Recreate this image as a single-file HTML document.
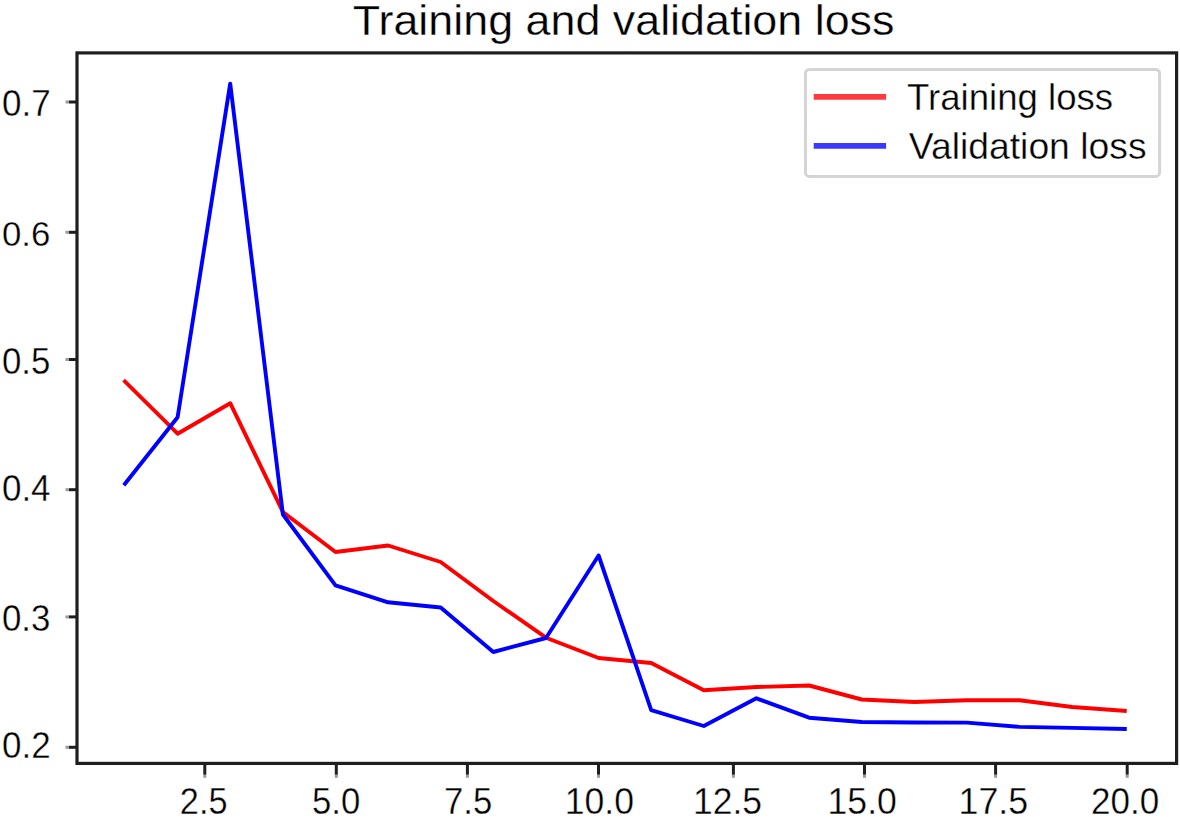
<!DOCTYPE html><html><head><meta charset="utf-8"><style>html,body{margin:0;padding:0;background:#fff;}svg{display:block;}text{font-family:"Liberation Sans",sans-serif;}</style></head><body>
<svg width="1180" height="817" viewBox="0 0 1180 817">
<rect width="1180" height="817" fill="#fff"/>
<polyline points="125.0,381.6 177.6,433.7 230.2,403.2 282.9,512.0 335.5,552.0 388.1,545.5 440.7,562.0 493.3,601.0 546.0,637.7 598.6,658.0 651.2,663.0 703.8,690.2 756.4,687.0 809.1,685.5 861.7,699.5 914.3,702.0 966.9,700.3 1019.5,700.3 1072.2,707.0 1124.8,710.8" fill="none" stroke="#ff0000" stroke-width="3.9" stroke-linejoin="round" stroke-linecap="square"/>
<polyline points="125.0,483.8 177.6,417.2 230.2,83.6 282.9,514.5 335.5,585.3 388.1,602.3 440.7,607.5 493.3,652.0 546.0,638.0 598.6,555.5 651.2,710.1 703.8,726.0 756.4,698.3 809.1,717.7 861.7,722.0 914.3,722.5 966.9,722.6 1019.5,726.9 1072.2,727.9 1124.8,729.0" fill="none" stroke="#0000ff" stroke-width="3.9" stroke-linejoin="round" stroke-linecap="square"/>
<rect x="77.0" y="52.9" width="1099.6" height="710.5" fill="none" stroke="#1e1e1e" stroke-width="3.2"/>
<line x1="68.8" y1="102.0" x2="77.0" y2="102.0" stroke="#1e1e1e" stroke-width="3"/>
<line x1="65.5" y1="102.0" x2="68.8" y2="102.0" stroke="#9a9a9a" stroke-width="3"/>
<line x1="68.8" y1="232.3" x2="77.0" y2="232.3" stroke="#1e1e1e" stroke-width="3"/>
<line x1="65.5" y1="232.3" x2="68.8" y2="232.3" stroke="#9a9a9a" stroke-width="3"/>
<line x1="68.8" y1="359.5" x2="77.0" y2="359.5" stroke="#1e1e1e" stroke-width="3"/>
<line x1="65.5" y1="359.5" x2="68.8" y2="359.5" stroke="#9a9a9a" stroke-width="3"/>
<line x1="68.8" y1="489.7" x2="77.0" y2="489.7" stroke="#1e1e1e" stroke-width="3"/>
<line x1="65.5" y1="489.7" x2="68.8" y2="489.7" stroke="#9a9a9a" stroke-width="3"/>
<line x1="68.8" y1="616.9" x2="77.0" y2="616.9" stroke="#1e1e1e" stroke-width="3"/>
<line x1="65.5" y1="616.9" x2="68.8" y2="616.9" stroke="#9a9a9a" stroke-width="3"/>
<line x1="68.8" y1="747.3" x2="77.0" y2="747.3" stroke="#1e1e1e" stroke-width="3"/>
<line x1="65.5" y1="747.3" x2="68.8" y2="747.3" stroke="#9a9a9a" stroke-width="3"/>
<line x1="204.8" y1="763.4" x2="204.8" y2="774.8" stroke="#1e1e1e" stroke-width="3"/>
<line x1="204.8" y1="774.8" x2="204.8" y2="777.8" stroke="#9a9a9a" stroke-width="3"/>
<line x1="336.3" y1="763.4" x2="336.3" y2="774.8" stroke="#1e1e1e" stroke-width="3"/>
<line x1="336.3" y1="774.8" x2="336.3" y2="777.8" stroke="#9a9a9a" stroke-width="3"/>
<line x1="467.4" y1="763.4" x2="467.4" y2="774.8" stroke="#1e1e1e" stroke-width="3"/>
<line x1="467.4" y1="774.8" x2="467.4" y2="777.8" stroke="#9a9a9a" stroke-width="3"/>
<line x1="598.5" y1="763.4" x2="598.5" y2="774.8" stroke="#1e1e1e" stroke-width="3"/>
<line x1="598.5" y1="774.8" x2="598.5" y2="777.8" stroke="#9a9a9a" stroke-width="3"/>
<line x1="733.4" y1="763.4" x2="733.4" y2="774.8" stroke="#1e1e1e" stroke-width="3"/>
<line x1="733.4" y1="774.8" x2="733.4" y2="777.8" stroke="#9a9a9a" stroke-width="3"/>
<line x1="864.5" y1="763.4" x2="864.5" y2="774.8" stroke="#1e1e1e" stroke-width="3"/>
<line x1="864.5" y1="774.8" x2="864.5" y2="777.8" stroke="#9a9a9a" stroke-width="3"/>
<line x1="995.6" y1="763.4" x2="995.6" y2="774.8" stroke="#1e1e1e" stroke-width="3"/>
<line x1="995.6" y1="774.8" x2="995.6" y2="777.8" stroke="#9a9a9a" stroke-width="3"/>
<line x1="1127.2" y1="763.4" x2="1127.2" y2="774.8" stroke="#1e1e1e" stroke-width="3"/>
<line x1="1127.2" y1="774.8" x2="1127.2" y2="777.8" stroke="#9a9a9a" stroke-width="3"/>
<text transform="translate(1.92,115.90) scale(0.9870,1.0182)" x="0" y="0" font-size="35.5" fill="#000" stroke="#fff" stroke-width="0.35">0.7</text>
<text transform="translate(1.93,245.90) scale(0.9816,1.0020)" x="0" y="0" font-size="35.5" fill="#000" stroke="#fff" stroke-width="0.35">0.6</text>
<text transform="translate(1.93,373.60) scale(0.9816,1.0343)" x="0" y="0" font-size="35.5" fill="#000" stroke="#fff" stroke-width="0.35">0.5</text>
<text transform="translate(1.92,500.50) scale(0.9861,1.0182)" x="0" y="0" font-size="35.5" fill="#000" stroke="#fff" stroke-width="0.35">0.4</text>
<text transform="translate(1.93,630.90) scale(0.9816,1.0182)" x="0" y="0" font-size="35.5" fill="#000" stroke="#fff" stroke-width="0.35">0.3</text>
<text transform="translate(1.92,758.20) scale(0.9870,1.0343)" x="0" y="0" font-size="35.5" fill="#000" stroke="#fff" stroke-width="0.35">0.2</text>
<text transform="translate(179.81,813.60) scale(0.9674,1.0263)" x="0" y="0" font-size="35.5" fill="#000" stroke="#fff" stroke-width="0.35">2.5</text>
<text transform="translate(312.03,813.60) scale(0.9785,1.0263)" x="0" y="0" font-size="35.5" fill="#000" stroke="#fff" stroke-width="0.35">5.0</text>
<text transform="translate(444.09,813.60) scale(0.9761,1.0367)" x="0" y="0" font-size="35.5" fill="#000" stroke="#fff" stroke-width="0.35">7.5</text>
<text transform="translate(564.64,813.60) scale(1.0031,1.0263)" x="0" y="0" font-size="35.5" fill="#000" stroke="#fff" stroke-width="0.35">10.0</text>
<text transform="translate(692.95,813.60) scale(1.0008,1.0263)" x="0" y="0" font-size="35.5" fill="#000" stroke="#fff" stroke-width="0.35">12.5</text>
<text transform="translate(827.54,813.60) scale(1.0031,1.0263)" x="0" y="0" font-size="35.5" fill="#000" stroke="#fff" stroke-width="0.35">15.0</text>
<text transform="translate(958.53,813.60) scale(1.0085,1.0367)" x="0" y="0" font-size="35.5" fill="#000" stroke="#fff" stroke-width="0.35">17.5</text>
<text transform="translate(1091.07,813.60) scale(0.9864,1.0263)" x="0" y="0" font-size="35.5" fill="#000" stroke="#fff" stroke-width="0.35">20.0</text>
<text transform="translate(352.79,34.80) scale(1.1071,1.0530)" x="0" y="0" font-size="40.5" fill="#000" stroke="#fff" stroke-width="0.3">Training and validation loss</text>
<rect x="805.5" y="69.5" width="354.1" height="106.9" rx="4" ry="4" fill="#fff" fill-opacity="0.8" stroke="#d4d4d4" stroke-width="3"/>
<line x1="813.7" y1="96.9" x2="886.1" y2="96.9" stroke="#ff3a3f" stroke-width="5.8"/>
<line x1="813.7" y1="145.8" x2="886.1" y2="145.8" stroke="#3a3aff" stroke-width="5.8"/>
<text transform="translate(906.93,109.70) scale(1.0318,1.0214)" x="0" y="0" font-size="35.5" fill="#000" stroke="#fff" stroke-width="0.35">Training loss</text>
<text transform="translate(908.84,158.70) scale(1.0509,1.0291)" x="0" y="0" font-size="35.5" fill="#000" stroke="#fff" stroke-width="0.35">Validation loss</text>
</svg></body></html>
